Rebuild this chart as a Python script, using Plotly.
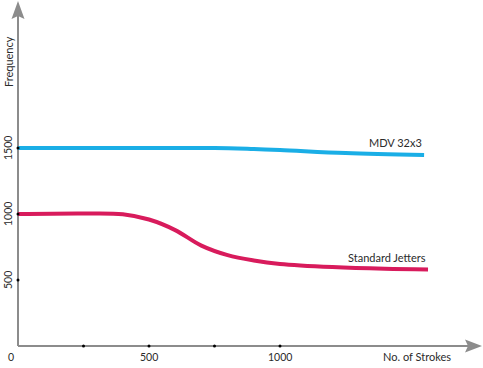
import plotly.graph_objects as go

# ---- data ----
x_mdv = [0, 250, 500, 750, 900, 1000, 1250, 1550]
mdv = [1500, 1500, 1500, 1500, 1492, 1485, 1462, 1447]

x_sj = [0, 250, 400, 500, 600, 700, 800, 900, 1000, 1200, 1400, 1565]
sj = [1000, 1004, 998, 958, 878, 760, 688, 648, 622, 598, 585, 580]

x_tick_vals = [250, 500, 750, 1000]
x_tick_labels = {0: "0", 500: "500", 1000: "1000"}
y_tick_vals = [500, 1000, 1500]
y_tick_labels = ["500", "1000", "1500"]

series_names = ["MDV 32x3", "Standard Jetters"]
x_title = "No. of Strokes"
y_title = "Frequency"

# ---- styles ----
BLUE = "#1aaee6"
PINK = "#d81b5c"
AXIS = "#8c8c8c"
TXT = "#2b2b2b"
FONT = "Lato"

# axis scale: plot area spans whole canvas
X0, X1 = -68.7, 1774.8
Y0, Y1 = -166.7, 2621.2

fig = go.Figure()
fig.add_trace(go.Scatter(x=x_mdv, y=mdv, mode="lines", line=dict(color=BLUE, width=4, shape="spline", smoothing=1),
                         hoverinfo="skip", showlegend=False))
fig.add_trace(go.Scatter(x=x_sj, y=sj, mode="lines", line=dict(color=PINK, width=4, shape="spline", smoothing=1),
                         hoverinfo="skip", showlegend=False))

shapes = []
# x axis line and arrow
shapes.append(dict(type="line", xref="x", yref="y", x0=0, y0=0, x1=1722, y1=0, line=dict(color=AXIS, width=2), layer="below"))
shapes.append(dict(type="path", xref="x", yref="y", xsizemode="pixel", ysizemode="pixel", xanchor=1771, yanchor=0,
                   path="M 0 0 L -17 6.5 L -14 0 L -17 -6.5 Z", fillcolor=AXIS, line=dict(width=0)))
# y axis line and arrow
shapes.append(dict(type="line", xref="x", yref="y", x0=0, y0=0, x1=0, y1=2500, line=dict(color=AXIS, width=2), layer="below"))
shapes.append(dict(type="path", xref="x", yref="y", xsizemode="pixel", ysizemode="pixel", xanchor=0, yanchor=2614,
                   path="M 0 0 L 6.5 -18 L 0 -15 L -6.5 -18 Z", fillcolor=AXIS, line=dict(width=0)))
fig.update_layout(shapes=shapes)

# tick dots
fig.add_trace(go.Scatter(x=x_tick_vals, y=[0] * len(x_tick_vals), mode="markers",
                         marker=dict(color="#000", size=3), hoverinfo="skip", showlegend=False))
fig.add_trace(go.Scatter(x=[0] * len(y_tick_vals), y=y_tick_vals, mode="markers",
                         marker=dict(color="#000", size=3), hoverinfo="skip", showlegend=False))

ann = []
for v, t in x_tick_labels.items():
    ann.append(dict(x=v, y=-83, xref="x", yref="y", text=t, showarrow=False, xshift=(-7 if v == 0 else 0),
                    font=dict(family=FONT, size=10.5, color=TXT)))
for v, t in zip(y_tick_vals, y_tick_labels):
    ann.append(dict(x=-38, y=v, xref="x", yref="y", text=t, showarrow=False, textangle=-90,
                    font=dict(family=FONT, size=10.5, color=TXT)))
ann.append(dict(x=1523, y=-83, xref="x", yref="y", text=x_title, showarrow=False,
                font=dict(family=FONT, size=11, color=TXT)))
ann.append(dict(x=-38, y=2151, xref="x", yref="y", text=y_title, showarrow=False, textangle=-90,
                font=dict(family=FONT, size=11, color=TXT)))
ann.append(dict(x=1439, y=1538, xref="x", yref="y", text=series_names[0], showarrow=False,
                font=dict(family=FONT, size=11, color=TXT)))
ann.append(dict(x=1410, y=667, xref="x", yref="y", text=series_names[1], showarrow=False,
                font=dict(family=FONT, size=11, color=TXT)))
fig.update_layout(annotations=ann)

fig.update_layout(
    width=483, height=368,
    margin=dict(l=0, r=0, t=0, b=0),
    paper_bgcolor="white", plot_bgcolor="white",
    xaxis=dict(range=[X0, X1], visible=False, fixedrange=True),
    yaxis=dict(range=[Y0, Y1], visible=False, fixedrange=True),
)
fig.write_html("out.html", post_script="document.body.style.margin='0';document.body.style.overflow='hidden';",
               config={"displayModeBar": False})
